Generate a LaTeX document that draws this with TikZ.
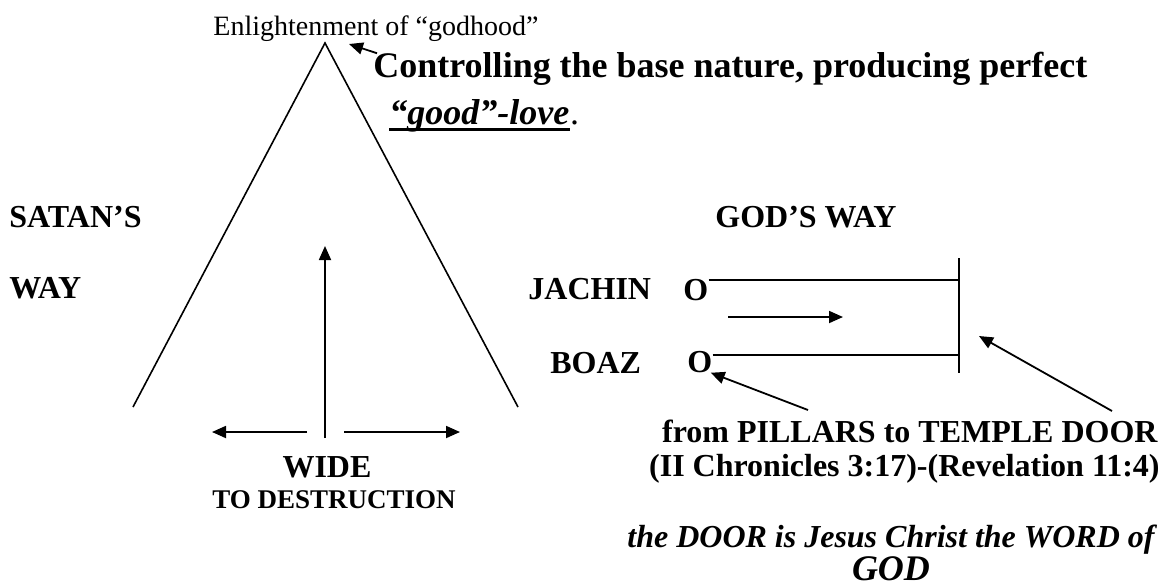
\documentclass[tikz,border=0pt]{standalone}
\usepackage{fontspec}
\setmainfont{Liberation Serif}
\usetikzlibrary{positioning,arrows.meta}

\begin{document}
\begin{tikzpicture}[x=0.5pt,y=-0.5pt,
  lbl/.style={font=\fontsize{16}{19}\selectfont\bfseries,anchor=base west,inner sep=0pt},
  ptr/.style={-{Triangle[length=7pt,width=6pt]},line width=0.9pt},
  rail/.style={line width=1pt}]
\useasboundingbox (0,0) rectangle (1169,586);
% ===== satan's way: the broad triangle =====
\coordinate (apex) at (325,43);
\coordinate (lfoot) at (133,407);
\coordinate (rfoot) at (518,407);
\draw[line width=0.8pt] (lfoot)--(apex)--(rfoot);
\node[font=\fontsize{14}{17}\selectfont,anchor=base west,inner sep=0pt] (enl) at (213,35){Enlightenment of “godhood”};
\node[font=\fontsize{18}{21}\selectfont\bfseries,anchor=base west,inner sep=0pt] (ctrl) at (373,77){Controlling the base nature, producing perfect};
\node[font=\fontsize{18}{21}\selectfont\bfseries\itshape,anchor=base west,inner sep=0pt] (love) at (389,124){“good”-love};
\node[font=\fontsize{18}{21}\selectfont,inner sep=0pt,right=0pt of love.base east,anchor=base west] (dot){.};
\draw[line width=1.4pt] ([yshift=1.2pt]love.south west)--([yshift=1.2pt]love.south east);
\coordinate (peak) at (349,44);
\draw[ptr] ([xshift=2pt,yshift=-1pt]ctrl.north west)--(peak);
\node[lbl] (satan) at (9,227){SATAN’S};
\node[lbl] (satway) at (9,298){WAY};
% arrows inside the triangle
\coordinate (upfoot) at (325,438);
\coordinate (uptip) at (325,246);
\draw[ptr] (upfoot)--(uptip);
\coordinate (wl) at (307,432); \coordinate (wltip) at (212,432);
\coordinate (wr) at (344,432); \coordinate (wrtip) at (460,432);
\draw[ptr] (wl)--(wltip);
\draw[ptr] (wr)--(wrtip);
\node[lbl,anchor=base] (wide) at (327,477){WIDE};
\node[font=\fontsize{13.5}{16}\selectfont\bfseries,anchor=base west,inner sep=0pt] (destr) at (212,508){TO DESTRUCTION};
% ===== god's way: pillars to the door =====
\node[lbl] (godway) at (715,227){GOD’S WAY};
\node[lbl] (jachin) at (528,299){JACHIN};
\node[lbl] (jo) at (683,300){O};
\node[lbl] (boaz) at (550,373){BOAZ};
\node[lbl] (bo) at (687,372){O};
\coordinate (dtop) at (959,258);
\coordinate (dbot) at (959,373);
\draw[rail] (dtop)--(dbot);
\draw[rail] ([yshift=-1pt]jo.north east)--([yshift=-1pt]jo.north east -| dtop);
\draw[rail] ([yshift=-2.5pt]bo.north east)--([yshift=-2.5pt]bo.north east -| dtop);
\coordinate (mid) at (728,317); \coordinate (midtip) at (843,317);
\draw[ptr] (mid)--(midtip);
% captions under the door
\node[lbl,anchor=base east] (pillars) at (1158,442){from PILLARS to TEMPLE DOOR};
\node[lbl,anchor=base east] (refs) at (1160,476){(II Chronicles 3:17)-(Revelation 11:4)};
\node[lbl,anchor=base east,font=\fontsize{16}{19}\selectfont\bfseries\itshape] (word) at (1155,547){the DOOR is Jesus Christ the WORD of};
\node[lbl,anchor=base,font=\fontsize{18}{21}\selectfont\bfseries\itshape] (god) at (891,580){GOD};
\coordinate (ptail) at (808,410);
\coordinate (dtail) at (1112,411);
\coordinate (dtip) at (979,336);
\draw[ptr] (ptail)--([xshift=-1pt]bo.south east);
\draw[ptr] (dtail)--(dtip);
\end{tikzpicture}
\end{document}
